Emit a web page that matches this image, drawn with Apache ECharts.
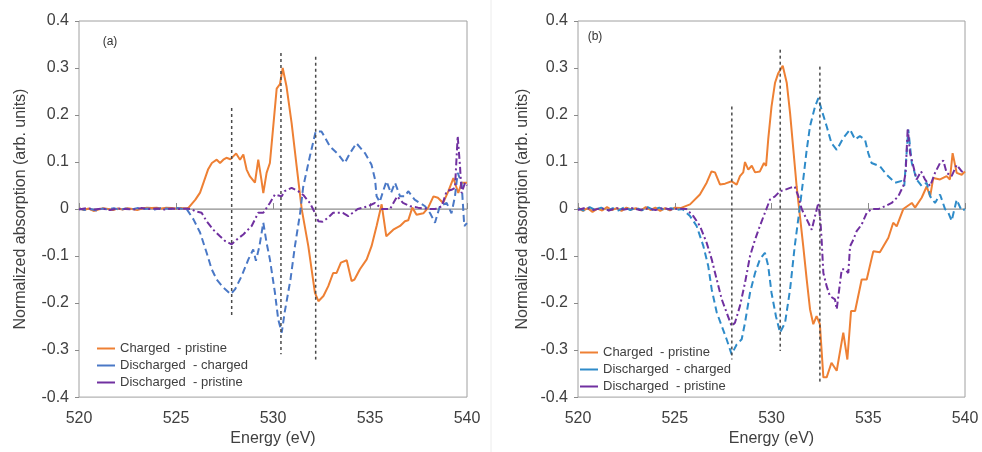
<!DOCTYPE html>
<html><head><meta charset="utf-8">
<script src="https://cdn.jsdelivr.net/npm/echarts@6/dist/echarts.min.js"></script>
<style>html,body{margin:0;padding:0;background:#fff}#c{width:982px;height:452px}</style>
</head><body><div id="c"></div>
<script>
// ---- Data (Energy eV, normalized absorption difference) ----
const xTicks = [520, 525, 530, 535, 540];
const legendLabels = ['Charged  - pristine', 'Discharged  - charged', 'Discharged  - pristine'];
const panelLabels = ['(a)', '(b)'];

// Panel (a)
const aChargedPristine = [[520,0.002],[520.25,-0.002],[520.5,0.001],[520.75,-0.004],[521,-0.001],[521.25,0.002],[521.5,0.000],[521.75,-0.002],[522,0.001],[522.25,-0.001],[522.5,0.002],[522.75,0.000],[523,-0.002],[523.25,0.001],[523.5,0.003],[523.75,0.002],[524,0.003],[524.25,0.001],[524.5,0.003],[524.75,0.002],[525,0.001],[525.25,0.002],[525.5,0.001],[525.65,0.003],
 [526.0,0.02],[526.24,0.035],[526.45,0.06],[526.65,0.084],[526.85,0.098],[527.1,0.105],[527.27,0.098],[527.44,0.105],[527.6,0.109],[527.8,0.106],[527.95,0.112],[528.1,0.118],[528.3,0.105],[528.47,0.116],[528.64,0.084],[528.8,0.07],[528.9,0.072],[529.07,0.056],[529.24,0.105],[529.4,0.063],[529.5,0.034],[529.67,0.077],[529.84,0.098],[530.0,0.17],[530.19,0.256],[530.36,0.266],[530.5,0.30],[530.7,0.26],[530.96,0.183],[531.22,0.091],[531.48,0],[531.82,-0.079],[532.16,-0.178],[532.34,-0.196],[532.6,-0.185],[532.85,-0.164],[533.1,-0.136],[533.28,-0.136],[533.5,-0.114],[533.8,-0.109],[534.05,-0.153],[534.2,-0.15],[534.48,-0.128],[534.83,-0.107],[535.08,-0.079],[535.34,-0.036],[535.6,0.01],[535.84,-0.058],[536.2,-0.044],[536.55,-0.036],[536.8,-0.026],[536.97,-0.024],[537.18,0.003],[537.4,-0.012],[537.75,-0.009],[538.0,0.003],[538.27,0.027],[538.5,0.024],[538.77,0.013],[539.04,0.038],[539.3,0.066],[539.55,0.034],[539.72,0.056],[540,0.056]];
const aDischargedCharged = [[520,0.001],[520.3,-0.002],[520.6,0.000],[520.9,-0.003],[521.2,0.001],[521.5,-0.001],[521.8,0.002],[522.1,-0.002],[522.4,0.001],[522.7,-0.001],[523,0.002],[523.3,0.000],[523.6,0.001],[523.9,-0.001],[524.2,0.002],[524.5,0.001],[524.8,0.000],[525.1,0.002],[525.4,0.000],[525.55,0],
 [525.9,-0.022],[526.24,-0.05],[526.58,-0.093],[526.84,-0.128],[527.1,-0.15],[527.44,-0.167],[527.82,-0.181],[528.04,-0.171],[528.38,-0.143],[528.73,-0.107],[528.98,-0.086],[529.12,-0.11],[529.3,-0.079],[529.5,-0.029],[529.67,-0.072],[529.84,-0.107],[530.1,-0.178],[530.27,-0.235],[530.45,-0.263],[530.6,-0.22],[530.9,-0.15],[531.13,-0.079],[531.4,-0.008],[531.56,0.048],[531.9,0.112],[532.2,0.165],[532.5,0.165],[532.94,0.133],[533.37,0.116],[533.7,0.098],[533.97,0.119],[534.3,0.14],[534.74,0.119],[535.08,0.094],[535.26,0.063],[535.34,0.027],[535.5,0.015],[535.7,0.041],[535.85,0.059],[536.08,0.034],[536.29,0.056],[536.55,0.027],[536.8,0.027],[536.97,0.038],[537.3,0.02],[537.84,0.006],[538.1,-0.009],[538.35,-0.029],[538.6,0.006],[538.95,0.013],[539.2,-0.009],[539.38,0.027],[539.52,0.077],[539.72,0.056],[539.86,-0.036],[540,-0.03]];
const aDischargedPristine = [[520,-0.001],[520.4,0.002],[520.8,-0.001],[521.2,0.001],[521.6,-0.002],[522,0.001],[522.4,0.000],[522.8,-0.001],[523.2,0.002],[523.6,0.000],[524,0.001],[524.4,-0.001],[524.8,0.001],[525.2,0.000],[525.5,0.001],[525.8,0],
 [526.0,-0.005],[526.32,-0.008],[526.58,-0.026],[526.92,-0.044],[527.27,-0.058],[527.53,-0.068],[527.87,-0.075],[528.13,-0.065],[528.47,-0.054],[528.9,-0.036],[529.24,-0.008],[529.5,-0.008],[529.84,0.013],[530.1,0.031],[530.45,0.027],[530.6,0.038],[530.96,0.045],[531.3,0.038],[531.56,0.03],[531.9,0.013],[532.1,-0.003],[532.34,-0.026],[532.55,-0.027],[532.85,-0.018],[533.1,-0.008],[533.6,-0.008],[533.88,-0.015],[534.37,0],[534.9,0.006],[535.26,0.013],[535.6,0],[536.03,0],[536.4,0.027],[536.7,0.013],[537.06,0.006],[537.48,0.003],[538.0,0],[538.35,0],[538.7,0.006],[538.95,0.038],[539.2,0.041],[539.38,0.045],[539.52,0.155],[539.64,0.091],[539.72,0.034],[539.9,0.056],[540,0.05]];
const aRefLines = [[527.87,0.215,-0.228],[530.41,0.332,-0.309],[532.2,0.324,-0.32]];

// Panel (b)
const bChargedPristine = [[520,0.003],[520.25,-0.004],[520.5,0.002],[520.75,-0.006],[521,0.001],[521.25,-0.003],[521.5,0.004],[521.75,-0.002],[522,0.002],[522.25,-0.004],[522.5,0.003],[522.75,-0.001],[523,0.002],[523.25,-0.003],[523.5,0.004],[523.75,-0.002],[524,0.003],[524.25,-0.004],[524.5,0.002],[524.75,-0.003],[525,0.003],[525.3,0.002],
 [525.79,0.01],[526.3,0.031],[526.65,0.056],[526.9,0.08],[527.08,0.078],[527.34,0.052],[527.6,0.054],[527.94,0.059],[528.2,0.052],[528.37,0.07],[528.54,0.078],[528.63,0.10],[528.8,0.084],[528.98,0.092],[529.15,0.078],[529.4,0.08],[529.61,0.098],[529.72,0.092],[529.83,0.148],[530.0,0.218],[530.18,0.268],[530.35,0.289],[530.58,0.305],[530.79,0.268],[530.96,0.204],[531.13,0.126],[531.3,0.048],[531.47,-0.015],[531.64,-0.079],[531.82,-0.15],[531.99,-0.213],[532.16,-0.245],[532.33,-0.228],[532.5,-0.245],[532.68,-0.358],[532.85,-0.358],[533.1,-0.327],[533.37,-0.344],[533.71,-0.263],[533.92,-0.32],[534.11,-0.217],[534.32,-0.217],[534.66,-0.15],[534.92,-0.15],[535.26,-0.09],[535.6,-0.092],[536.04,-0.061],[536.29,-0.029],[536.47,-0.037],[536.81,0],[537.25,0.013],[537.42,0.003],[537.76,0.024],[538.02,0.048],[538.2,0.027],[538.36,0.066],[538.71,0.063],[539.05,0.07],[539.22,0.063],[539.36,0.119],[539.57,0.077],[539.83,0.073],[540,0.08]];
const bDischargedCharged = [[520,0.002],[520.3,-0.003],[520.6,0.004],[520.9,-0.002],[521.2,0.003],[521.5,-0.004],[521.8,0.002],[522.1,-0.003],[522.4,0.004],[522.7,-0.002],[523,0.003],[523.3,-0.003],[523.6,0.004],[523.9,-0.002],[524.2,0.003],[524.5,-0.003],[524.8,0.002],[525.1,-0.002],[525.4,0],
 [525.79,-0.015],[526.13,-0.036],[526.48,-0.079],[526.73,-0.121],[526.91,-0.171],[527.17,-0.22],[527.43,-0.249],[527.68,-0.277],[527.94,-0.309],[528.2,-0.288],[528.46,-0.277],[528.63,-0.242],[528.89,-0.178],[529.15,-0.136],[529.4,-0.107],[529.66,-0.093],[529.83,-0.121],[530.0,-0.178],[530.23,-0.228],[530.44,-0.263],[530.7,-0.242],[530.96,-0.171],[531.2,-0.079],[531.47,0.006],[531.64,0.063],[531.82,0.126],[531.99,0.176],[532.25,0.218],[532.42,0.236],[532.59,0.211],[532.85,0.176],[533.1,0.14],[533.37,0.126],[533.71,0.151],[534.06,0.169],[534.32,0.148],[534.57,0.155],[534.83,0.148],[535.0,0.119],[535.17,0.098],[535.6,0.091],[535.95,0.073],[536.38,0.056],[536.73,0.06],[536.86,0.049],[537.07,0.169],[537.25,0.098],[537.5,0.063],[537.76,0.049],[538.02,0.056],[538.2,0.027],[538.45,0.013],[538.71,0.031],[538.97,0],[539.14,-0.008],[539.31,-0.025],[539.57,0.02],[539.83,-0.004],[540,0]];
const bDischargedPristine = [[520,-0.002],[520.4,0.003],[520.8,-0.002],[521.2,0.002],[521.6,-0.003],[522,0.002],[522.4,-0.001],[522.8,0.002],[523.2,-0.002],[523.6,0.001],[524,-0.002],[524.4,0.002],[524.8,-0.001],[525.2,0.001],[525.6,0],
 [525.96,-0.015],[526.3,-0.036],[526.65,-0.072],[526.91,-0.107],[527.17,-0.15],[527.43,-0.192],[527.68,-0.22],[527.94,-0.249],[528.11,-0.242],[528.37,-0.206],[528.63,-0.157],[528.89,-0.1],[529.15,-0.065],[529.4,-0.036],[529.66,-0.008],[529.92,0.02],[530.18,0.027],[530.44,0.038],[530.7,0.041],[530.96,0.045],[531.2,0.048],[531.39,0.027],[531.56,0],[531.82,-0.022],[532.08,-0.044],[532.25,-0.015],[532.42,0.013],[532.52,-0.02],[532.59,-0.065],[532.68,-0.136],[532.85,-0.164],[533.02,-0.185],[533.28,-0.192],[533.37,-0.213],[533.63,-0.128],[533.8,-0.128],[533.97,-0.136],[534.06,-0.079],[534.23,-0.065],[534.4,-0.047],[534.66,-0.033],[534.92,-0.008],[535.17,0],[535.52,0],[535.86,0.006],[536.21,0.013],[536.55,0.027],[536.81,0.049],[536.93,0.077],[537.04,0.172],[537.16,0.119],[537.33,0.091],[537.5,0.063],[537.73,0.08],[537.93,0.063],[538.2,0.049],[538.45,0.077],[538.71,0.098],[538.88,0.103],[539.05,0.077],[539.31,0.07],[539.57,0.094],[539.83,0.08],[540,0.077]];
const bRefLines = [[527.95,0.218,-0.32],[530.45,0.339,-0.302],[532.5,0.303,-0.368]];

// ---- Styles ----
const FONT = "'Liberation Sans', Arial, sans-serif";
const TXT = '#404040';
const ORANGE = '#EE8034';
const BLUE_A = '#4A78C6';
const BLUE_B = '#2E8BC9';
const PURPLE = '#7030A0';

function xAx(g){return {gridIndex:g,type:'value',min:520,max:540,interval:5,
  name:'Energy (eV)',nameLocation:'middle',nameGap:32,
  nameTextStyle:{fontSize:16,color:TXT,fontFamily:FONT},
  axisLine:{show:false},axisTick:{show:true,inside:true,length:6,lineStyle:{color:'#8a8a8a'}},
  axisLabel:{fontSize:16,color:TXT,fontFamily:FONT,margin:13},splitLine:{show:false}};}
function yAx(g,gap){return {gridIndex:g,type:'value',min:-0.4,max:0.4,interval:0.1,
  name:'Normalized absorption (arb. units)',nameLocation:'middle',nameGap:gap,nameRotate:90,
  nameTextStyle:{fontSize:16,color:TXT,fontFamily:FONT},
  axisLine:{show:false},axisTick:{show:true,inside:false,length:4,lineStyle:{color:'#8a8a8a'}},
  axisLabel:{fontSize:16,color:TXT,fontFamily:FONT,margin:10,
    formatter:v=>{const r=Math.round(v*10)/10;return r===0?'0':r.toFixed(1);}},
  splitLine:{show:false}};}

function curve(name,data,g,color,type){return {name:name,type:'line',xAxisIndex:g,yAxisIndex:g,
  data:data,showSymbol:false,symbol:'none',silent:true,
  itemStyle:{color:color},lineStyle:{color:color,width:2,type:type}};}
function refLines(arr,g){return arr.map(r=>({type:'line',xAxisIndex:g,yAxisIndex:g,silent:true,symbol:'none',
  data:[[r[0],r[1]],[r[0],r[2]]],lineStyle:{color:'#4a4a4a',width:1.5,type:[3,3]},z:3}));}
function zero(g){return {type:'line',xAxisIndex:g,yAxisIndex:g,silent:true,symbol:'none',
  data:[[520,0],[540,0]],lineStyle:{color:'#8c8c8c',width:1.2},z:1};}

const nameMap = {a1:legendLabels[0],a2:legendLabels[1],a3:legendLabels[2],b1:legendLabels[0],b2:legendLabels[1],b3:legendLabels[2]};
function leg(left,top,names){return {left:left,top:top,orient:'vertical',data:names,padding:0,
  formatter:n=>nameMap[n],icon:'rect',itemWidth:18,itemHeight:2,itemGap:4,selectedMode:false,
  textStyle:{fontSize:13,color:TXT,fontFamily:FONT}};}

const dashA=[7,4], dashDot=[7,3,2,3];
const option = {
  animation:false,
  backgroundColor:'#fff',
  grid:[{left:79,top:21,width:388,height:377,show:true,borderColor:'#a0a0a0',borderWidth:1},
        {left:578,top:21,width:387,height:377,show:true,borderColor:'#a0a0a0',borderWidth:1}],
  xAxis:[xAx(0),xAx(1)],
  yAxis:[yAx(0,50),yAx(1,47)],
  legend:[leg(97,342,['a1','a2','a3']),leg(580,346,['b1','b2','b3'])],
  graphic:[
    {type:'line',shape:{x1:491,y1:0,x2:491,y2:452},style:{stroke:'#ececec',lineWidth:1},silent:true},
    {type:'text',x:110,y:42,style:{text:panelLabels[0],fontSize:12,fontFamily:FONT,fill:'#333',align:'center',verticalAlign:'middle'}},
    {type:'text',x:595,y:37,style:{text:panelLabels[1],fontSize:12,fontFamily:FONT,fill:'#333',align:'center',verticalAlign:'middle'}}
  ],
  series:[].concat(
    [zero(0),zero(1)],
    [curve('a1',aChargedPristine,0,ORANGE,'solid'),
     curve('a2',aDischargedCharged,0,BLUE_A,dashA),
     curve('a3',aDischargedPristine,0,PURPLE,dashDot),
     curve('b1',bChargedPristine,1,ORANGE,'solid'),
     curve('b2',bDischargedCharged,1,BLUE_B,dashA),
     curve('b3',bDischargedPristine,1,PURPLE,dashDot)],
    refLines(aRefLines,0),refLines(bRefLines,1))
};
const chart = echarts.init(document.getElementById('c'),null,{renderer:'canvas'});
chart.setOption(option);
</script></body></html>
